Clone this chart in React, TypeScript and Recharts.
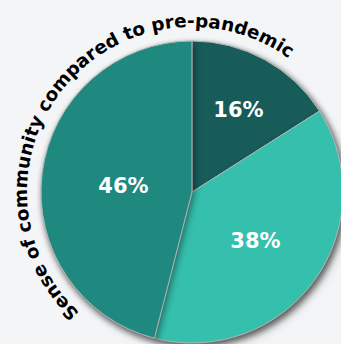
import { PieChart, Pie, Cell, Customized } from 'recharts'

const categories = ['Less', 'About the same', 'More']
const shares = [16, 38, 46]
const colors = ['#175c59', '#35bfad', '#1f897f']
const title = 'Sense of community compared to pre-pandemic'

const CX = 192
const CY = 192
const R = 151

const chartData = categories.map((name, i) => ({ name, value: shares[i] }))

const RAD = Math.PI / 180

// put each label at the centroid of its slice
const renderLabel = (props: any) => {
  const { cx, cy, midAngle, outerRadius, startAngle, endAngle, value } = props
  const half = (Math.abs(endAngle - startAngle) / 2) * RAD
  const r = (2 * outerRadius * Math.sin(half)) / (3 * half)
  const x = cx + r * Math.cos(-midAngle * RAD)
  const y = cy + r * Math.sin(-midAngle * RAD) + 3
  return (
    <text
      x={x}
      y={y}
      fill="#ffffff"
      textAnchor="middle"
      dominantBaseline="central"
      fontFamily="DejaVu Sans, Verdana, sans-serif"
      fontWeight="bold"
      fontSize={21}
    >
      {value}%
    </text>
  )
}

// title written along an arc outside the pie
const CurvedTitle = () => {
  const tr = 165
  const a0 = 133 * RAD
  const a1 = 320 * RAD
  const x0 = CX + tr * Math.cos(a0)
  const y0 = CY + tr * Math.sin(a0)
  const x1 = CX + tr * Math.cos(a1)
  const y1 = CY + tr * Math.sin(a1)
  const d = `M ${x0} ${y0} A ${tr} ${tr} 0 1 1 ${x1} ${y1}`
  return (
    <g>
      <defs>
        <path id="titleArc" d={d} fill="none" />
      </defs>
      <text
        fontFamily="DejaVu Sans, Verdana, sans-serif"
        fontWeight="bold"
        fontSize={18.4}
        fill="#000000"
      >
        <textPath href="#titleArc" startOffset="0">
          {title}
        </textPath>
      </text>
    </g>
  )
}

export default function App() {
  return (
    <div style={{ position: 'fixed', left: 0, top: 0, width: 341, height: 344, background: '#f4f5f7' }}>
      <style>{`.shadowPie { filter: drop-shadow(2px 3px 3px rgba(0,0,0,0.4)); }`}</style>
      <PieChart width={341} height={344} margin={{ top: 0, right: 0, bottom: 0, left: 0 }}>
        <Pie
          className="shadowPie"
          data={chartData}
          dataKey="value"
          nameKey="name"
          cx={CX}
          cy={CY}
          outerRadius={R}
          startAngle={90}
          endAngle={-270}
          stroke="#b5b5b5"
          strokeWidth={1}
          label={false}
          labelLine={false}
          isAnimationActive={false}
        >
          {chartData.map((d, i) => (
            <Cell key={d.name} fill={colors[i]} />
          ))}
        </Pie>
        <Pie
          data={chartData}
          dataKey="value"
          nameKey="name"
          cx={CX}
          cy={CY}
          outerRadius={R}
          startAngle={90}
          endAngle={-270}
          fill="none"
          stroke="none"
          label={renderLabel}
          labelLine={false}
          isAnimationActive={false}
        />
        <Customized component={CurvedTitle} />
      </PieChart>
    </div>
  )
}
